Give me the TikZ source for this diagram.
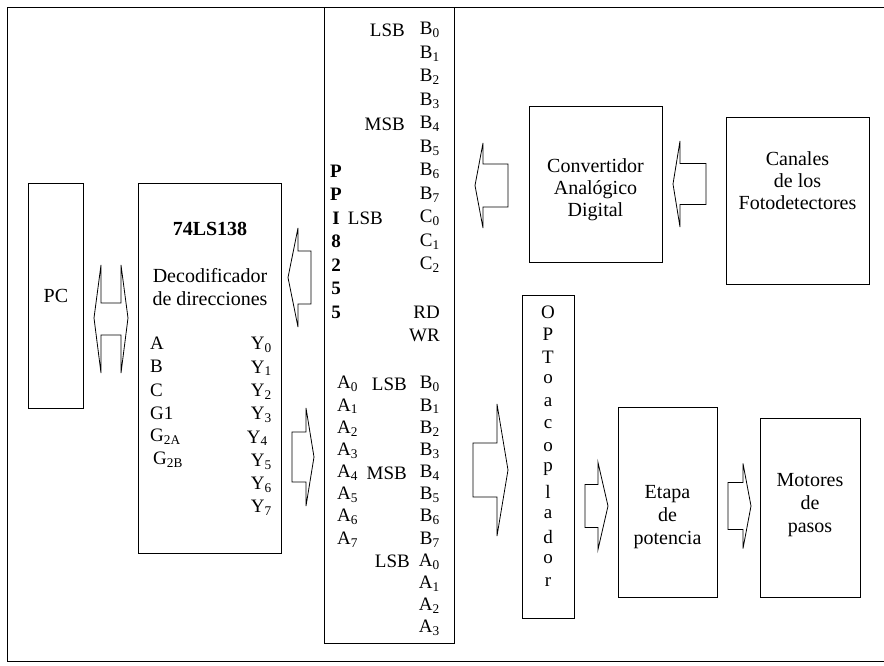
\documentclass[tikz,border=0pt]{standalone}
\usepackage{fontspec}
\setmainfont{Liberation Serif}
\newcommand{\sbx}[1]{\textsubscript{#1}}
\newcommand{\blockarrow}[6]{% tail x, tip x, head-base x, centre y, shaft half, head half
  \draw[barrow] (#1,#4-#5) -- (#3,#4-#5) -- (#3,#4-#6) -- (#2,#4) -- (#3,#4+#6) -- (#3,#4+#5) -- (#1,#4+#5) -- cycle;}
\begin{document}
\begin{tikzpicture}[x=1pt,y=-1pt,
  box/.style={draw, line width=0.8pt, inner sep=0pt, anchor=north west},
  lbl/.style={inner sep=0pt, font=\fontsize{20}{22}\selectfont, align=center},
  pin/.style={inner sep=0pt, font=\fontsize{19}{21}\selectfont},
  bpin/.style={inner sep=0pt, font=\fontsize{19}{21}\selectfont\bfseries},
  barrow/.style={draw, line width=0.8pt, line join=miter},
  frame/.style={line width=0.9pt}]
\useasboundingbox (0,0) rectangle (884,665);
% outer frame
\draw[frame] (884,7) -- (7,7) -- (7,661) -- (884,661);
% boxes
\node[box, minimum width=55pt, minimum height=225pt, lbl] (pc) at (28,183) {PC};
\node[box, minimum width=143pt, minimum height=370pt] (dec) at (138,183) {};
\node[box, minimum width=130pt, minimum height=636pt] (ppi) at (324,7) {};
\node[box, minimum width=133pt, minimum height=156pt] (adc) at (529,106) {};
\node[box, minimum width=143pt, minimum height=167pt] (can) at (726,117) {};
\node[box, minimum width=52pt, minimum height=323pt] (opto) at (522,295) {};
\node[box, minimum width=99pt, minimum height=190pt] (eta) at (618,407) {};
\node[box, minimum width=100pt, minimum height=179pt] (mot) at (760,418) {};
% box texts
\node[lbl, font=\fontsize{20}{22}\selectfont\bfseries] (dect1) at (210,229) {74LS138};
\node[lbl, font=\fontsize{20}{23}\selectfont] (dect2) at (210,287) {Decodificador\\de direcciones};
\node[lbl] (adct) at (595.5,190) {Convertidor\\Analógico\\Digital};
\node[lbl] (cant) at (797.5,181) {Canales\\de los\\Fotodetectores};
\node[lbl, font=\fontsize{20}{23}\selectfont] (etat) at (667.5,517) {Etapa\\de\\potencia};
\node[lbl, font=\fontsize{20}{23}\selectfont] (mott) at (810,505) {Motores\\de\\pasos};
% decoder pins
\foreach \s [count=\k from 0] in {A,B,C,G1,G\sbx{2A}}
  \node[pin, anchor=west] (dl\k) at (150,343+23.4*\k) {\s};
\node[pin, anchor=west] (dl5) at (153,343+23.4*5) {G\sbx{2B}};
\foreach \k in {0,1,2,3,5,6,7}
  \node[pin, anchor=east] (dr\k) at (272,345+23.3*\k) {Y\sbx{\k}};
\node[pin, anchor=east] (dr4) at (268,345+23.3*4) {Y\sbx{4}};
% PPI upper section
\foreach \k in {0,...,7}
  \node[pin, anchor=east] (ub\k) at (440,30+23.5*\k) {B\sbx{\k}};
\foreach \k in {0,1,2}
  \node[pin, anchor=east] (uc\k) at (440,30+23.5*8+23.5*\k) {C\sbx{\k}};
\node[pin, anchor=east] (urd) at (440,30+23.5*12) {RD};
\node[pin, anchor=east] (uwr) at (440,30+23.5*13) {WR};
\node[pin, anchor=east] (ulsb1) at (405,30) {LSB};
\node[pin, anchor=east] (umsb) at (405,30+23.5*4) {MSB};
\node[pin, anchor=east] (ulsb2) at (383,30+23.5*8) {LSB};
\foreach \s [count=\k from 6] in {P,P,I,8,2,5,5}
  \node[bpin] (pp\k) at (336,30+23.5*\k) {\s};
% PPI lower section
\foreach \k in {0,...,7}
  \node[pin, anchor=west] (la\k) at (337,384+22.2*\k) {A\sbx{\k}};
\foreach \k in {0,...,7}
  \node[pin, anchor=east] (lb\k) at (440,384+22.2*\k) {B\sbx{\k}};
\foreach \k in {0,...,3}
  \node[pin, anchor=east] (lc\k) at (440,384+22.2*8+22.2*\k) {A\sbx{\k}};
\node[pin, anchor=east] (llsb1) at (407,384) {LSB};
\node[pin, anchor=east] (lmsb) at (407,384+22.2*4) {MSB};
\node[pin, anchor=east] (llsb2) at (410,384+22.2*8) {LSB};
% optoacoplador letters
\foreach \c [count=\k from 0] in {O,P,T,o,a,c,o,p,l,a,d,o,r}
  \node[pin] (op\k) at (548,312+22.5*\k) {\c};
% block arrows
\draw[barrow] (101,303) -- (101,265) -- (94,318) -- (101,373) -- (101,335) -- (121,335)
  -- (121,373) -- (128,318) -- (121,265) -- (121,303) -- cycle;
\blockarrow{311}{288}{298}{277.5}{26.5}{49.5}
\blockarrow{292}{314}{306}{457}{25}{49}
\blockarrow{508}{475}{483}{185.5}{21.5}{42.5}
\blockarrow{706}{673}{680}{184}{20.5}{43}
\blockarrow{473}{508}{497}{470}{27}{66}
\blockarrow{585}{608}{598}{506}{21.5}{43.5}
\blockarrow{728}{751}{743}{506}{23.5}{42.5}
\end{tikzpicture}
\end{document}
